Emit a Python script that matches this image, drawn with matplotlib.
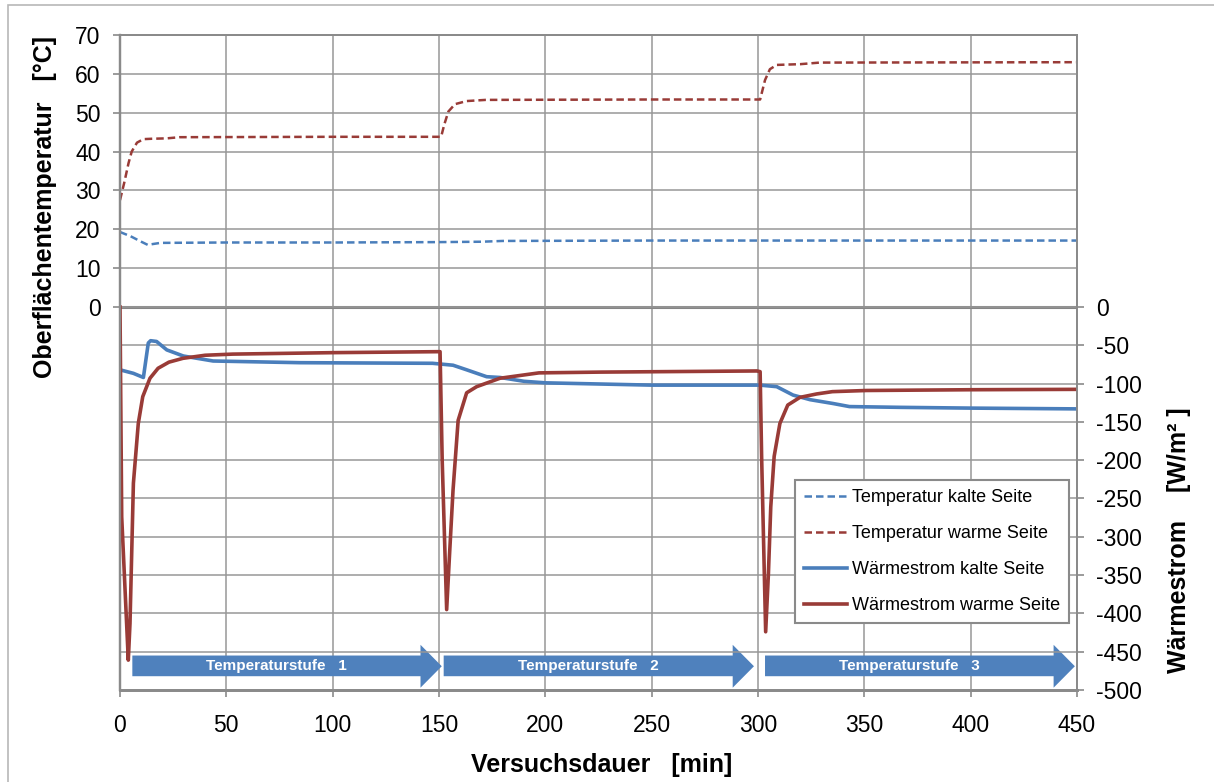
import numpy as np
import matplotlib
matplotlib.use("Agg")
import matplotlib.pyplot as plt
from matplotlib.patches import Rectangle

plt.rcParams['font.family'] = ['Liberation Sans', 'DejaVu Sans']
plt.rcParams['axes.unicode_minus'] = False

# --- data --------------------------------------------------------------
# surface temperatures (left axis, deg C)
t_temp_cold = [0, 5, 10, 13, 19, 50, 100, 150, 170, 180, 250, 300, 350, 400, 450]
temp_cold = [19.3, 18.2, 16.8, 16.0, 16.5, 16.6, 16.6, 16.7, 16.8, 17.0, 17.1, 17.1, 17.1, 17.1, 17.1]

t_temp_warm = [0, 2, 4, 5.5, 8, 11, 15, 22, 28, 100, 151, 152.5, 154.4, 157.5, 163, 172,
               250, 301, 303.3, 305.6, 308.8, 320, 329, 450]
temp_warm = [27.5, 32, 37, 40, 42.3, 43.2, 43.3, 43.4, 43.7, 43.8, 43.8, 47, 50.3, 52.2, 53.0, 53.3,
             53.4, 53.4, 58.4, 61.2, 62.3, 62.5, 62.9, 63.0]

# heat flux (right axis, W/m2)
t_flux_cold = [0, 6.3, 11, 13.3, 14.4, 17.2, 22, 29.8, 43.8, 84.6, 147, 156.6, 163, 172.4, 178.7,
               190, 200, 250, 301, 308.8, 316.5, 324.5, 335.3, 343, 366.8, 400, 450]
flux_cold = [-82, -86.6, -92, -47, -44, -45, -56, -64, -70.5, -72.7, -73.5, -76, -82, -91, -92,
             -97, -99, -102, -102, -104, -115, -121, -126, -130, -131, -132, -133]

t_flux_warm = [0, 0.8, 3.9, 4.7, 6.3, 8.6, 10.7, 14.1, 17.9, 23, 29.6, 40, 53, 100, 150.5,
               151.5, 153.6, 154.9, 156.6, 159, 163, 167.7, 178.7, 197, 225.6, 299.5,
               301, 301.7, 303.6, 304.9, 306, 307.6, 310.3, 314, 319.7, 327.6, 335, 351, 400, 450]
flux_warm = [0, -274, -461, -413, -230, -152, -117, -93, -80, -72, -67, -63, -61.5, -59.6, -58.3,
             -200, -395, -326, -239, -148, -112, -104, -93, -86, -85, -83.5,
             -84.4, -195, -424, -348, -261, -195, -152, -128, -118, -113.5, -110.5, -109, -108, -107.5]

# temperature stages (arrows along the bottom)
stage_start = [5.8, 152.2, 303.3]
stage_end = [151.3, 298.1, 449]
stage_labels = ['Temperaturstufe   1', 'Temperaturstufe   2', 'Temperaturstufe   3']

x_ticks = np.arange(0, 451, 50)
temp_ticks = np.arange(0, 71, 10)
flux_ticks = np.arange(-500, 1, 50)

# --- styling -------------------------------------------------------------
RED = '#993B37'
BLUE = '#4A7EBB'
ARROW = '#4F81BD'
GRID = '#979797'
TICK_FS = 16.5
LABEL_FS = 18

W, H = 1214, 782
fig = plt.figure(figsize=(W / 100, H / 100), dpi=100)
ax = fig.add_axes([120 / W, 1 - 690 / H, 957 / W, 655 / H])
ax2 = ax.twinx()

# zero line sits at the same height for both axes
zero_frac = (690 - 307) / 655
ax.set_ylim(-70 * zero_frac / (1 - zero_frac), 70)
ax2.set_ylim(-500, 500 * (1 - zero_frac) / zero_frac)
ax.set_xlim(0, 450)

ax.set_xticks(x_ticks)
ax.set_yticks(temp_ticks)
ax2.set_yticks(flux_ticks)

ax.grid(True, color=GRID, lw=1.1)
ax2.grid(True, axis='y', color=GRID, lw=1.1)
ax.set_axisbelow(True)
ax.axhline(0, color='#858585', lw=2.2, zorder=1.5)

for a in (ax, ax2):
    for s in a.spines.values():
        s.set_color('#8A8A8A')
        s.set_linewidth(1.3)
    a.spines['bottom'].set_linewidth(2)
    a.spines['left'].set_linewidth(1.6)
    a.tick_params(colors='#8A8A8A', labelcolor='black', labelsize=TICK_FS,
                  direction='out', length=5, width=1.2)
ax.tick_params(axis='x', pad=12)
ax.tick_params(axis='y', pad=9)
ax2.tick_params(axis='y', pad=9)

# temperature lines
l1, = ax.plot(t_temp_cold, temp_cold, color=BLUE, lw=1.8, dashes=(3, 1.6),
              label='Temperatur kalte Seite')
l2, = ax.plot(t_temp_warm, temp_warm, color=RED, lw=1.8, dashes=(3, 1.6),
              label='Temperatur warme Seite')

# stage arrows
body_lo, body_hi, head_lo, head_hi, head_len = -482, -455, -497, -441, 10
for x0, x1, lab in zip(stage_start, stage_end, stage_labels):
    xs = [x0, x1 - head_len, x1 - head_len, x1, x1 - head_len, x1 - head_len, x0]
    ys = [body_lo, body_lo, head_lo, (head_lo + head_hi) / 2, head_hi, body_hi, body_hi]
    ax2.fill(xs, ys, color=ARROW, lw=0, zorder=1)
    ax2.text((x0 + x1 - head_len) / 2, (body_lo + body_hi) / 2, lab, color='white',
             fontsize=11, fontweight='bold', ha='center', va='center', zorder=1.1)

# heat flux lines
l3, = ax2.plot(t_flux_cold, flux_cold, color=BLUE, lw=2.6, label='Wärmestrom kalte Seite', zorder=2)
l4, = ax2.plot(t_flux_warm, flux_warm, color=RED, lw=2.6, label='Wärmestrom warme Seite', zorder=2.1)

leg = ax2.legend(handles=[l1, l2, l3, l4], loc='upper right',
                 bbox_to_anchor=((1069 - 120) / 957, (690 - 480) / 655),
                 borderaxespad=0, fontsize=13, frameon=True, fancybox=False,
                 framealpha=1, edgecolor='#8A8A8A', borderpad=0.5, labelspacing=1.05,
                 handlelength=2.4, handletextpad=0.25)
leg.get_frame().set_linewidth(1.5)
leg.set_zorder(5)

# axis titles
fig.text(602 / W, 1 - 765 / H, 'Versuchsdauer   [min]', fontsize=LABEL_FS,
         fontweight='bold', ha='center', va='center')
fig.text(45 / W, 1 - 207 / H, 'Oberflächentemperatur   [°C]', fontsize=LABEL_FS,
         fontweight='bold', ha='center', va='center', rotation=90)
fig.text(1179 / W, 1 - 540 / H, 'Wärmestrom    [W/m² ]', fontsize=LABEL_FS,
         fontweight='bold', ha='center', va='center', rotation=90)

# chart area border
fig.patches.append(Rectangle((8 / W, -0.1), 1.5, 1.1 - 5 / H, transform=fig.transFigure,
                             fill=False, edgecolor='#B8B8B8', lw=1.2))

fig.savefig('out.png', dpi=100)
